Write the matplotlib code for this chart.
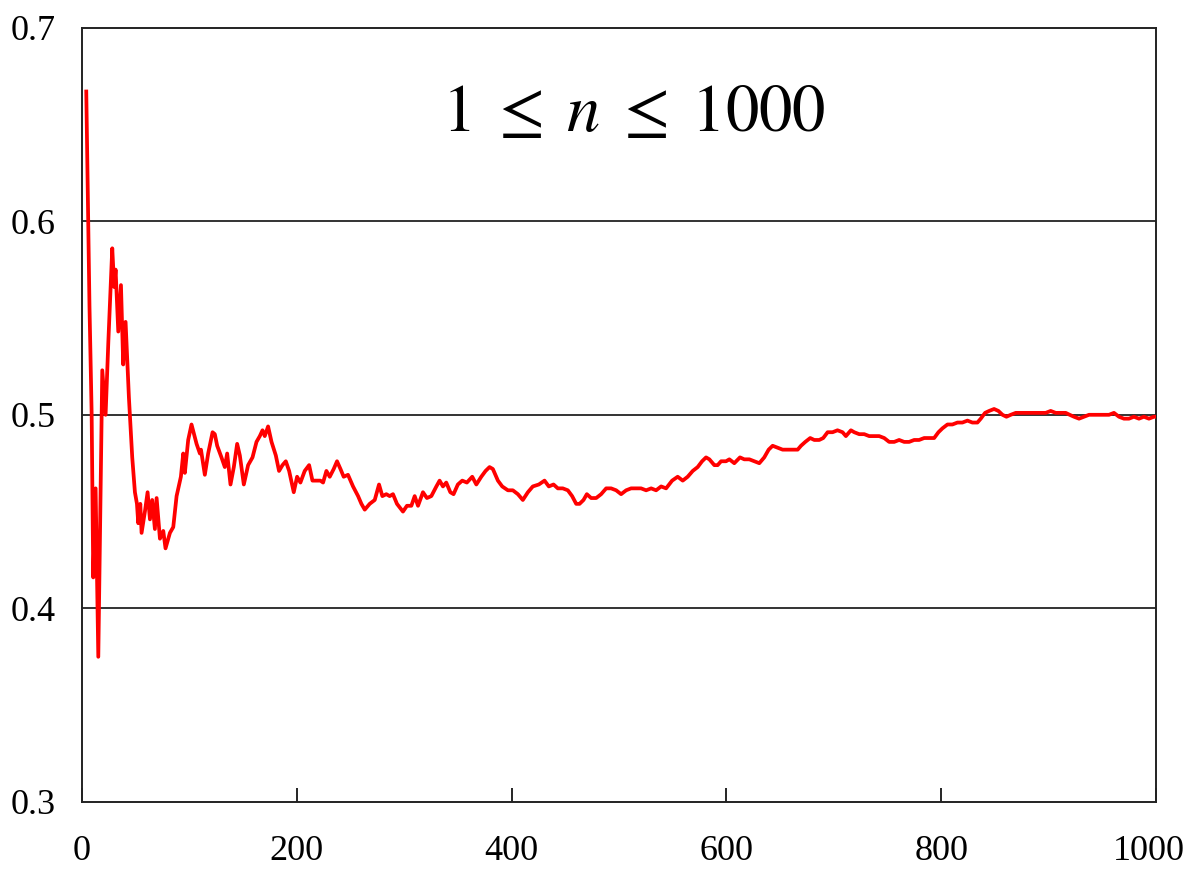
import matplotlib
matplotlib.use("Agg")
import matplotlib.pyplot as plt
from matplotlib.transforms import ScaledTranslation

# running proportion
n_vals = [4, 7, 9, 10.5, 12.7, 15.2, 18.9, 22, 24.5, 28.2, 30, 31.3, 33.8, 36.3, 38.4,
          40.6, 43.7, 46.8, 49.3, 51.2, 52.4, 54.3, 55.5, 58.6, 61.1, 63.3, 65.4, 67.9,
          69.5, 72.6, 75.7, 77.8, 81.9, 85, 88.1, 92.1, 94.3, 95.8, 98.9, 102,
          106.7, 109.8, 110.8, 114.4, 117.5, 121.6, 123.7, 125.9, 129.9, 133, 135.2,
          138.3, 141.4, 144.5, 147, 150.7, 154.7, 158.8, 162.5, 165.6, 168.1, 170.2,
          173.3, 176.5, 180.5, 183.5, 186.7, 189.8, 192.9, 197.2, 200.3, 203.4, 207.4,
          211.5, 214.6, 218.3, 222, 224.5, 227.6, 230.7, 234.4, 237.5, 240.7, 243.7,
          247.7, 252.4, 257.1, 260.2, 263.3, 267.9, 272.6, 276.6, 279.7, 283.4, 286.5,
          289.6, 293.3, 298.9, 302.6, 306.7, 309.8, 312.9, 317.5, 321.2, 325.3, 330,
          333, 336.1, 339.2, 343, 346, 350, 354.1, 358.4, 363.4, 367.2, 371.8, 375.8,
          379.5, 382.6, 387.3, 391.3, 396.6, 401.2, 405.9, 410.5, 415.2, 419.8, 425.4,
          430.7, 434.7, 439.1, 443.1, 447.7, 452.4, 456.4, 460.2, 463.3, 467, 470.1,
          474.1, 478.8, 483.4, 488.1, 492.7, 497.4, 502, 506.7, 511.3, 516, 520.6,
          525.3, 530, 534.6, 539.3, 543.9, 549.5, 554.7, 559.4, 564, 568.7, 573.3,
          577.4, 581.1, 584.2, 588.8, 591.9, 595.1, 599.7, 602.8, 607.4, 612.7, 616.7,
          621.4, 626, 630.7, 635.3, 639.4, 643.1, 647.7, 652.4, 657, 661.7, 666.4,
          669.5, 673.5, 678.1, 681.9, 686.5, 690.2, 694.3, 698.9, 703.5, 708.2, 711.3,
          716, 719.1, 723.7, 728.4, 733, 737.7, 742.3, 747, 751.6, 756.3, 760.9, 765.6,
          770.2, 774.9, 779.5, 784.2, 788.8, 793.5, 797.5, 801.2, 805.9, 810.5, 815.2,
          819.8, 824.5, 829.1, 833.8, 836.9, 840.9, 844.7, 849.3, 853.3, 857.1, 860.8,
          864.8, 869.5, 874.1, 878.8, 883.4, 888.1, 892.7, 897.4, 902, 906.7, 911.3,
          916, 919.7, 923.7, 928.4, 933, 937.7, 942.3, 947, 951.6, 956.3, 960.9, 965.6,
          970.2, 974.9, 979.5, 984.2, 988.8, 993.5, 998.1, 1000]
ratio = [0.667, 0.556, 0.501, 0.416, 0.462, 0.375, 0.523, 0.500, 0.537, 0.586, 0.566,
         0.575, 0.543, 0.567, 0.526, 0.548, 0.509, 0.478, 0.460, 0.454, 0.444, 0.454,
         0.439, 0.450, 0.460, 0.446, 0.456, 0.441, 0.457, 0.436, 0.440, 0.431, 0.439,
         0.442, 0.458, 0.468, 0.480, 0.470, 0.487, 0.495,
         0.485, 0.480, 0.482, 0.469, 0.480, 0.491, 0.490, 0.484, 0.478, 0.473, 0.480,
         0.464, 0.473, 0.485, 0.479, 0.464, 0.474, 0.478, 0.486, 0.489, 0.492, 0.489,
         0.494, 0.486, 0.479, 0.471, 0.474, 0.476, 0.471, 0.460, 0.468, 0.465, 0.471,
         0.474, 0.466, 0.466, 0.466, 0.465, 0.471, 0.468, 0.472, 0.476, 0.472, 0.468,
         0.469, 0.463, 0.458, 0.454, 0.451, 0.454, 0.456, 0.464, 0.458, 0.459, 0.458,
         0.459, 0.454, 0.450, 0.453, 0.453, 0.458, 0.453, 0.460, 0.457, 0.458, 0.463,
         0.466, 0.463, 0.465, 0.460, 0.459, 0.464, 0.466, 0.465, 0.468, 0.464, 0.468,
         0.471, 0.473, 0.472, 0.466, 0.463, 0.461, 0.461, 0.459, 0.456, 0.460, 0.463,
         0.464, 0.466, 0.463, 0.464, 0.462, 0.462, 0.461, 0.458, 0.454, 0.454, 0.456,
         0.459, 0.457, 0.457, 0.459, 0.462, 0.462, 0.461, 0.459, 0.461, 0.462, 0.462,
         0.462, 0.461, 0.462, 0.461, 0.463, 0.462, 0.466, 0.468, 0.466, 0.468, 0.471,
         0.473, 0.476, 0.478, 0.477, 0.474, 0.474, 0.476, 0.476, 0.477, 0.475, 0.478,
         0.477, 0.477, 0.476, 0.475, 0.478, 0.482, 0.484, 0.483, 0.482, 0.482, 0.482,
         0.482, 0.484, 0.486, 0.488, 0.487, 0.487, 0.488, 0.491, 0.491, 0.492, 0.491,
         0.489, 0.492, 0.491, 0.490, 0.490, 0.489, 0.489, 0.489, 0.488, 0.486, 0.486,
         0.487, 0.486, 0.486, 0.487, 0.487, 0.488, 0.488, 0.488, 0.491, 0.493, 0.495,
         0.495, 0.496, 0.496, 0.497, 0.496, 0.496, 0.498, 0.501, 0.502, 0.503, 0.502,
         0.500, 0.499, 0.500, 0.501, 0.501, 0.501, 0.501, 0.501, 0.501, 0.501, 0.502,
         0.501, 0.501, 0.501, 0.500, 0.499, 0.498, 0.499, 0.500, 0.500, 0.500, 0.500,
         0.500, 0.501, 0.499, 0.498, 0.498, 0.499, 0.498, 0.499, 0.498, 0.499, 0.499]

x_ticks = [0, 200, 400, 600, 800, 1000]
y_ticks = [0.3, 0.4, 0.5, 0.6, 0.7]
title_text = r"$1\;\leq\;n\;\leq\;1000$"

plt.rcParams['font.family'] = ['Liberation Serif', 'DejaVu Serif']
plt.rcParams['mathtext.fontset'] = 'stix'

fig = plt.figure(figsize=(11.88, 8.74), dpi=100)
ax = fig.add_axes([0.069, 0.0824, 0.904, 0.886])

# horizontal grid lines
for yv in y_ticks[1:-1]:
    ax.axhline(yv, color='#333333', lw=1.4, zorder=1)

ax.plot(n_vals, ratio, color='#ff0000', lw=2.7, zorder=3)

ax.set_xlim(0, 1000)
ax.set_ylim(0.3, 0.7)
ax.set_xticks(x_ticks)
ax.set_xticklabels([str(t) for t in x_ticks])
ax.set_yticks(y_ticks)
ax.set_yticklabels([f"{t:.1f}" for t in y_ticks])

ax.tick_params(axis='x', direction='in', length=10, width=1.2, pad=24, labelsize=26)
ax.tick_params(axis='y', length=0, pad=19, labelsize=26)

# last x label sits a little left of its tick so it stays inside the picture
last = ax.get_xticklabels()[-1]
last.set_transform(last.get_transform() + ScaledTranslation(-7 / 100, 0, fig.dpi_scale_trans))

for sp in ax.spines.values():
    sp.set_linewidth(1.4)
    sp.set_color('#222222')

ax.text(514, 0.655, title_text, ha='center', va='center', fontsize=48)

fig.savefig('out.png', dpi=100)
